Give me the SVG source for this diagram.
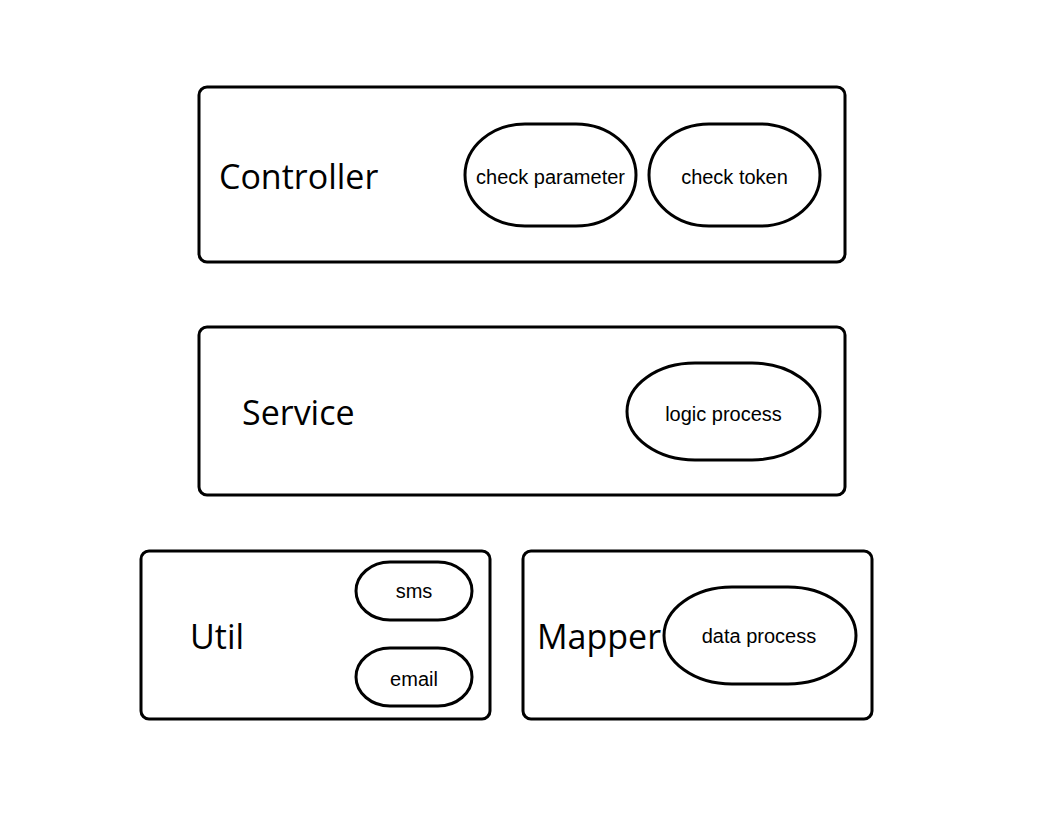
<svg xmlns="http://www.w3.org/2000/svg" width="1060" height="816" viewBox="0 0 1060 816">
<style>
.box{fill:#fff;stroke:#000;stroke-width:3}
.pill{fill:#fff;stroke:#000;stroke-width:3}
.big{font-family:"Open Sans","Noto Sans",sans-serif;font-size:34px;fill:#000}
.sm{font-family:"Liberation Sans",Arial,sans-serif;font-size:20px;fill:#000;text-anchor:middle}
</style>
<rect width="1060" height="816" fill="#fff"/>
<g id="controller">
<rect class="box" x="199" y="87" width="646" height="175" rx="8"/>
<text class="big" x="219" y="189">Controller</text>
</g>
<g id="check-parameter">
<rect class="pill" x="465" y="124" width="171" height="102" rx="60" ry="51"/>
<text class="sm" x="550.5" y="184">check parameter</text>
</g>
<g id="check-token">
<rect class="pill" x="649" y="124" width="171" height="102" rx="60" ry="51"/>
<text class="sm" x="734.5" y="184">check token</text>
</g>
<g id="service">
<rect class="box" x="199" y="327" width="646" height="168" rx="8"/>
<text class="big" x="242" y="425">Service</text>
</g>
<g id="logic-process">
<rect class="pill" x="627" y="363" width="193" height="97" rx="68" ry="48.5"/>
<text class="sm" x="723.5" y="421">logic process</text>
</g>
<g id="util">
<rect class="box" x="141" y="551" width="349" height="168" rx="8"/>
<text class="big" x="190" y="649">Util</text>
</g>
<g id="sms">
<rect class="pill" x="356" y="562" width="116" height="58" rx="34" ry="29"/>
<text class="sm" x="414" y="598">sms</text>
</g>
<g id="email">
<rect class="pill" x="356" y="648" width="116" height="58" rx="34" ry="29"/>
<text class="sm" x="414" y="686">email</text>
</g>
<g id="mapper">
<rect class="box" x="523" y="551" width="349" height="168" rx="8"/>
<text class="big" x="537" y="649">Mapper</text>
</g>
<g id="data-process">
<rect class="pill" x="664" y="587" width="192" height="97" rx="68" ry="48.5"/>
<text class="sm" x="759" y="643">data process</text>
</g>
<g id="connectors"></g>
</svg>
